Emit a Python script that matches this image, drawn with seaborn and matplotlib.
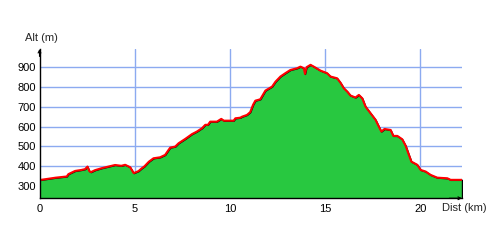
import matplotlib
matplotlib.use("Agg")
import matplotlib.pyplot as plt
import seaborn as sns
import pandas as pd

dist_km = [0.0, 0.5, 0.85, 1.43, 1.52, 1.87, 2.2, 2.39, 2.52, 2.62, 2.7, 2.92, 3.27, 3.62,
           3.97, 4.3, 4.5, 4.76, 4.95, 5.2, 5.38, 5.5, 5.75, 5.99, 6.34, 6.6, 6.78, 6.87,
           7.13, 7.31, 7.66, 8.01, 8.27, 8.54, 8.71, 8.85, 8.97, 9.32, 9.55, 9.68, 10.2,
           10.29, 10.55, 10.64, 10.9, 11.07, 11.22, 11.34, 11.6, 11.87, 12.22, 12.4, 12.66,
           12.92, 13.18, 13.54, 13.71, 13.89, 13.95, 14.03, 14.24, 14.41, 14.76, 15.11,
           15.29, 15.64, 15.82, 15.99, 16.17, 16.34, 16.6, 16.78, 16.96, 17.13, 17.39,
           17.66, 17.83, 17.96, 18.13, 18.45, 18.59, 18.8, 19.06, 19.24, 19.41, 19.54,
           19.85, 20.03, 20.29, 20.55, 20.9, 21.43, 21.6, 22.2]
alt_m = [330, 337, 342, 348, 360, 376, 381, 385, 398, 375, 370, 380, 390, 398,
         406, 402, 407, 395, 365, 375, 390, 398, 423, 440, 445, 457, 482, 494,
         499, 516, 538, 562, 575, 592, 609, 609, 625, 625, 639, 630, 630,
         642, 645, 650, 659, 673, 710, 731, 738, 782, 802, 827, 853,
         870, 886, 895, 903, 895, 866, 900, 912, 903, 883, 870,
         853, 844, 821, 794, 777, 757, 747, 760, 743, 701, 668,
         634, 600, 575, 588, 583, 553, 553, 536, 503, 457, 423,
         407, 381, 373, 356, 342, 339, 331, 331]

x_ticks = [0, 5, 10, 15, 20]
y_ticks = [300, 400, 500, 600, 700, 800, 900]
x_label = "Dist (km)"
y_label = "Alt (m)"

df = pd.DataFrame({"dist": dist_km, "alt": alt_m})

sns.set_style("white")
plt.rcParams["font.family"] = ["Liberation Sans", "DejaVu Sans"]

fig = plt.figure(figsize=(5, 2.5), dpi=100)
ax = fig.add_axes([0.079, 0.207, 0.845, 0.597])

ymin, ymax = 238, 992
xmax = 22.2
ax.set_xlim(0, xmax)
ax.set_ylim(ymin, ymax)

grid_color = "#8CAAF0"
for t in y_ticks:
    ax.axhline(t, color=grid_color, lw=1, zorder=0)
for t in x_ticks[1:]:
    ax.axvline(t, color=grid_color, lw=1, zorder=0)

ax.fill_between(df["dist"], df["alt"], ymin, facecolor="#28C840",
                edgecolor="black", linewidth=1.0, zorder=2)
sns.lineplot(data=df, x="dist", y="alt", ax=ax, color="#FF0000", lw=1.5,
             zorder=3, estimator=None, sort=False)

ax.set_xticks(x_ticks)
ax.set_yticks(y_ticks)
ax.tick_params(axis="both", length=0, labelsize=8, colors="black")
ax.tick_params(axis="y", pad=2.5)
ax.tick_params(axis="x", pad=4)
ax.set_xlabel("")
ax.set_ylabel("")

for s in ["top", "right"]:
    ax.spines[s].set_visible(False)
for s in ["left", "bottom"]:
    ax.spines[s].set_color("black")
    ax.spines[s].set_linewidth(1.0)
    ax.spines[s].set_zorder(4)

ax.annotate("", xy=(0, 1.0), xytext=(0, 0.95), xycoords="axes fraction",
            arrowprops=dict(arrowstyle="->", lw=0.8, color="black",
                            shrinkA=0, shrinkB=0, mutation_scale=5))
ax.annotate("", xy=(1.0, 0), xytext=(0.97, 0), xycoords="axes fraction",
            arrowprops=dict(arrowstyle="->", lw=0.8, color="black",
                            shrinkA=0, shrinkB=0, mutation_scale=5))

fig.text(25 / 500, 1 - 38 / 250, y_label, fontsize=8, ha="left", va="center")
fig.text(442 / 500, 1 - 208 / 250, x_label, fontsize=8, ha="left", va="center")

fig.savefig("out.png", dpi=100, facecolor="white")
